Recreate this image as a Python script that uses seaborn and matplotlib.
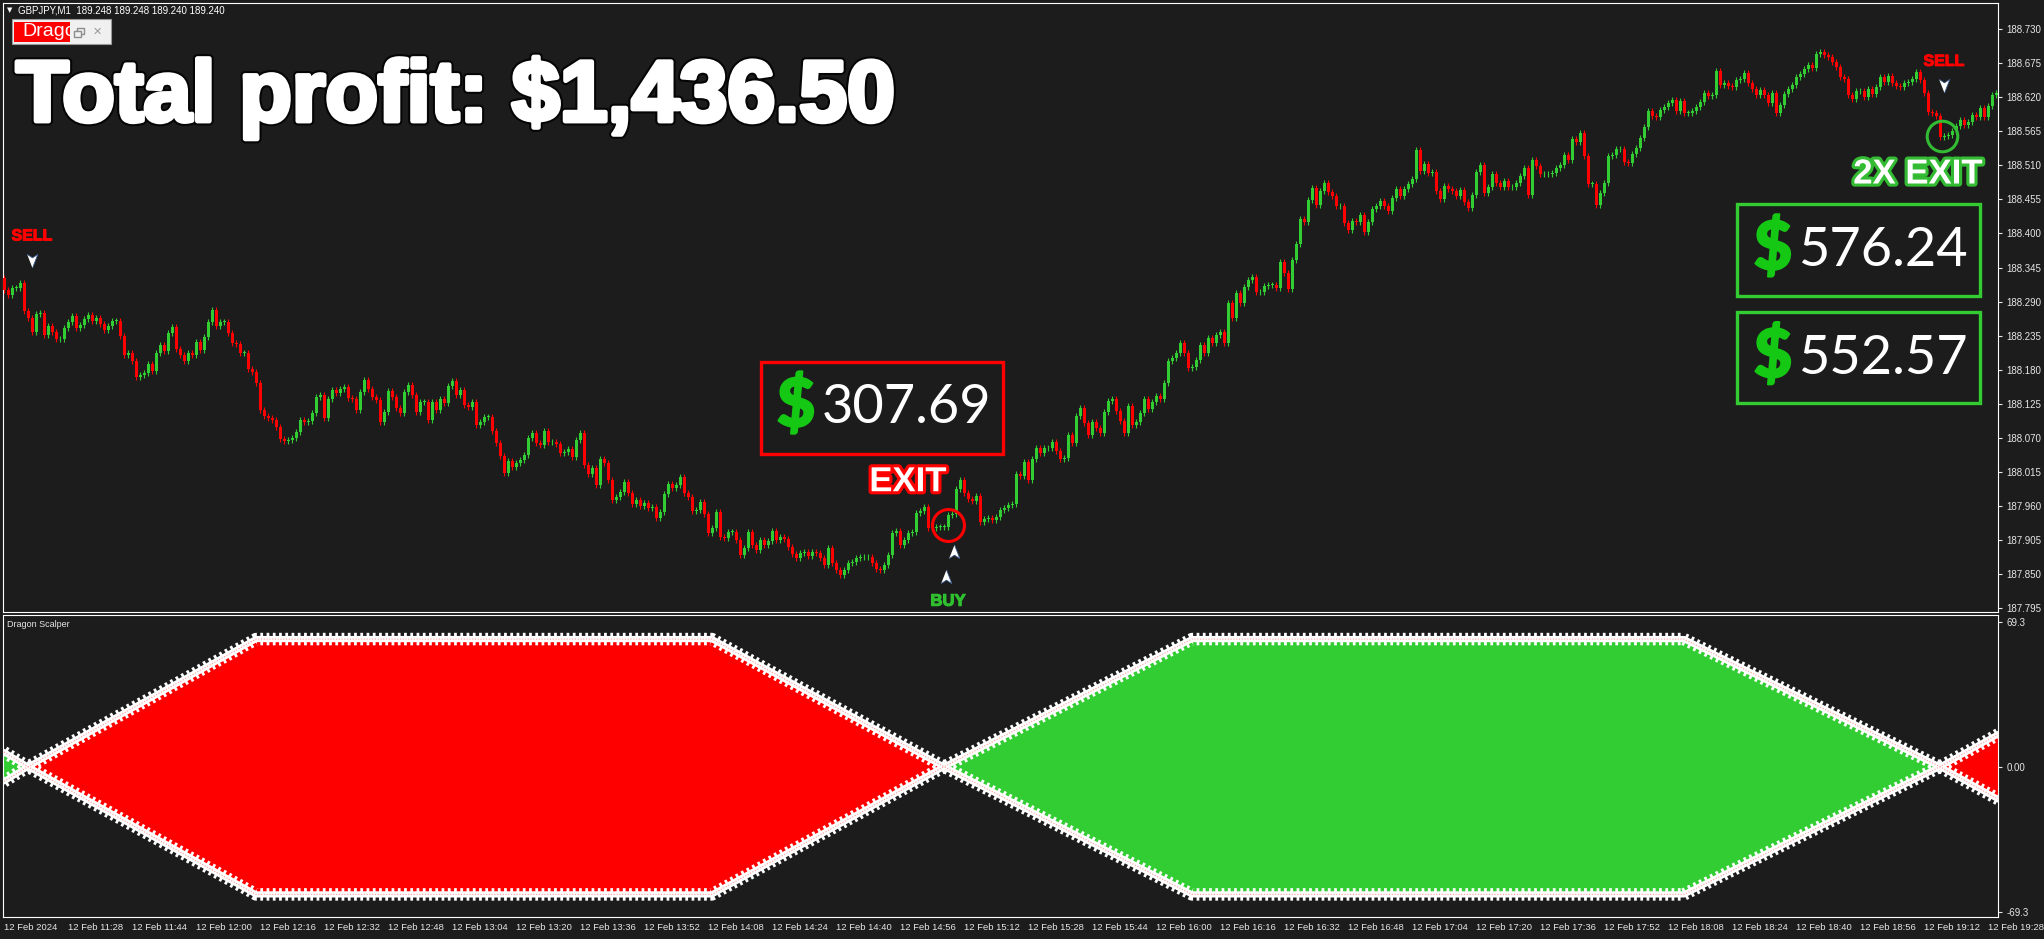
import numpy as np
import pandas as pd
import matplotlib
matplotlib.use("Agg")
import matplotlib.pyplot as plt
import matplotlib.patheffects as pe
from matplotlib.patches import Rectangle
import seaborn as sns

BG = "#1c1c1c"
RED = "#ff0000"
GREEN = "#32cd32"
FG = "#e6e6e6"

sns.set_style("dark", {"axes.facecolor": BG, "figure.facecolor": BG,
                       "axes.edgecolor": "white", "xtick.color": FG, "ytick.color": FG})
plt.rcParams["font.family"] = ["Liberation Sans", "DejaVu Sans"]

# GBPJPY M1 closes, 12 Feb 2024, one per minute from 11:12
first_open = 188.328
closes = [
    188.309, 188.301, 188.312, 188.312, 188.320, 188.275, 188.263, 188.241, 188.270, 188.271,
    188.236, 188.250, 188.241, 188.229, 188.229, 188.247, 188.257, 188.267, 188.247, 188.252,
    188.262, 188.268, 188.259, 188.263, 188.254, 188.244, 188.250, 188.259, 188.259, 188.234,
    188.204, 188.207, 188.194, 188.168, 188.171, 188.175, 188.189, 188.178, 188.207, 188.220,
    188.210, 188.239, 188.249, 188.213, 188.204, 188.194, 188.207, 188.204, 188.225, 188.212,
    188.233, 188.257, 188.276, 188.250, 188.257, 188.257, 188.239, 188.223, 188.221, 188.207,
    188.207, 188.181, 188.176, 188.158, 188.115, 188.105, 188.102, 188.099, 188.087, 188.068,
    188.065, 188.066, 188.070, 188.079, 188.099, 188.095, 188.097, 188.110, 188.136, 188.139,
    188.102, 188.133, 188.147, 188.142, 188.149, 188.152, 188.134, 188.133, 188.115, 188.144,
    188.163, 188.149, 188.136, 188.131, 188.095, 188.112, 188.146, 188.136, 188.118, 188.110,
    188.144, 188.155, 188.139, 188.112, 188.128, 188.128, 188.099, 188.128, 188.115, 188.133,
    188.126, 188.154, 188.162, 188.139, 188.147, 188.123, 188.120, 188.128, 188.091, 188.095,
    188.104, 188.104, 188.081, 188.062, 188.041, 188.013, 188.032, 188.023, 188.029, 188.034,
    188.042, 188.070, 188.078, 188.062, 188.058, 188.081, 188.063, 188.063, 188.060, 188.045,
    188.047, 188.052, 188.039, 188.066, 188.078, 188.026, 188.011, 188.021, 187.994, 188.036,
    188.029, 188.002, 187.970, 187.974, 187.982, 187.999, 187.981, 187.963, 187.970, 187.960,
    187.965, 187.957, 187.958, 187.940, 187.950, 187.979, 187.995, 187.989, 187.994, 188.007,
    187.981, 187.974, 187.952, 187.953, 187.966, 187.947, 187.916, 187.924, 187.950, 187.910,
    187.908, 187.918, 187.918, 187.905, 187.881, 187.892, 187.918, 187.897, 187.889, 187.905,
    187.897, 187.903, 187.919, 187.905, 187.910, 187.906, 187.894, 187.882, 187.876, 187.884,
    187.885, 187.879, 187.885, 187.884, 187.876, 187.865, 187.892, 187.868, 187.856, 187.848,
    187.856, 187.868, 187.869, 187.876, 187.877, 187.877, 187.877, 187.868, 187.858, 187.856,
    187.865, 187.881, 187.916, 187.919, 187.897, 187.905, 187.916, 187.918, 187.949, 187.952,
    187.958, 187.924, 187.924, 187.926, 187.926, 187.926, 187.945, 187.947, 187.987, 188.002,
    187.981, 187.971, 187.968, 187.976, 187.934, 187.939, 187.940, 187.937, 187.942, 187.953,
    187.957, 187.961, 187.963, 188.011, 188.008, 188.031, 188.002, 188.036, 188.053, 188.045,
    188.053, 188.053, 188.063, 188.049, 188.036, 188.037, 188.074, 188.062, 188.105, 188.118,
    188.094, 188.074, 188.095, 188.086, 188.078, 188.112, 188.129, 188.133, 188.113, 188.097,
    188.078, 188.121, 188.091, 188.095, 188.110, 188.133, 188.116, 188.128, 188.137, 188.133,
    188.158, 188.194, 188.199, 188.207, 188.223, 188.207, 188.183, 188.184, 188.196, 188.220,
    188.207, 188.231, 188.223, 188.236, 188.241, 188.223, 188.288, 188.263, 188.304, 188.288,
    188.314, 188.325, 188.330, 188.305, 188.305, 188.315, 188.317, 188.317, 188.312, 188.354,
    188.336, 188.310, 188.357, 188.383, 188.423, 188.418, 188.454, 188.473, 188.446, 188.469,
    188.481, 188.467, 188.460, 188.444, 188.444, 188.417, 188.405, 188.420, 188.418, 188.430,
    188.402, 188.418, 188.439, 188.444, 188.452, 188.444, 188.436, 188.457, 188.472, 188.460,
    188.472, 188.480, 188.488, 188.535, 188.501, 188.512, 188.498, 188.499, 188.469, 188.456,
    188.477, 188.472, 188.469, 188.460, 188.470, 188.451, 188.441, 188.462, 188.499, 188.511,
    188.465, 188.475, 188.496, 188.481, 188.475, 188.485, 188.475, 188.475, 188.481, 188.493,
    188.506, 188.462, 188.519, 188.509, 188.496, 188.496, 188.496, 188.498, 188.506, 188.511,
    188.527, 188.519, 188.553, 188.548, 188.562, 188.525, 188.480, 188.480, 188.446, 188.465,
    188.481, 188.525, 188.527, 188.536, 188.536, 188.515, 188.514, 188.528, 188.538, 188.554,
    188.572, 188.598, 188.590, 188.588, 188.599, 188.604, 188.611, 188.616, 188.598, 188.614,
    188.595, 188.595, 188.598, 188.604, 188.612, 188.627, 188.622, 188.624, 188.662, 188.640,
    188.643, 188.638, 188.637, 188.648, 188.649, 188.659, 188.643, 188.633, 188.624, 188.632,
    188.624, 188.611, 188.627, 188.595, 188.607, 188.625, 188.633, 188.640, 188.653, 188.657,
    188.666, 188.672, 188.667, 188.690, 188.693, 188.688, 188.685, 188.677, 188.669, 188.653,
    188.649, 188.624, 188.617, 188.630, 188.630, 188.620, 188.633, 188.625, 188.637, 188.653,
    188.645, 188.654, 188.643, 188.638, 188.637, 188.643, 188.645, 188.649, 188.661, 188.648,
    188.627, 188.596, 188.595, 188.590, 188.556, 188.557, 188.559, 188.565, 188.574, 188.583,
    188.575, 188.580, 188.591, 188.588, 188.603, 188.588, 188.606, 188.624, 188.627,
]

# Dragon Scalper indicator lines (minute index, value)
ind_t = [0, 6, 63, 177, 235, 297, 420, 484, 499]
ind_fast = [-7, 0, 61, 61, 0, -61, -61, 0, 16]
ind_slow = [7, 0, -61, -61, 0, 61, 61, 0, -16]

price_ticks = [188.730, 188.675, 188.620, 188.565, 188.510, 188.455, 188.400, 188.345, 188.290,
               188.235, 188.180, 188.125, 188.070, 188.015, 187.960, 187.905, 187.850, 187.795]
ind_ticks = [69.3, 0.0, -69.3]
ind_tick_labels = ["69.3", "0.00", "-69.3"]
time_labels = ["12 Feb 2024", "12 Feb 11:28", "12 Feb 11:44", "12 Feb 12:00", "12 Feb 12:16",
               "12 Feb 12:32", "12 Feb 12:48", "12 Feb 13:04", "12 Feb 13:20", "12 Feb 13:36",
               "12 Feb 13:52", "12 Feb 14:08", "12 Feb 14:24", "12 Feb 14:40", "12 Feb 14:56",
               "12 Feb 15:12", "12 Feb 15:28", "12 Feb 15:44", "12 Feb 16:00", "12 Feb 16:16",
               "12 Feb 16:32", "12 Feb 16:48", "12 Feb 17:04", "12 Feb 17:20", "12 Feb 17:36",
               "12 Feb 17:52", "12 Feb 18:08", "12 Feb 18:24", "12 Feb 18:40", "12 Feb 18:56",
               "12 Feb 19:12", "12 Feb 19:28"]
time_ticks = [16 * i for i in range(len(time_labels))]

# signals
sell_t, sell_label_p, sell_arrow_p = [7, 485], [188.396, 188.678], [188.357, 188.640]
buy_t, buy_arrow_p, buy_label_p = [237.5, 235.5], [187.886, 187.845], 187.806
exit_t, exit_p = 236, 187.929
exit2_t, exit2_p = 484.6, 188.557
profits = ["307.69", "576.24", "552.57"]
title = "Total profit: $1,436.50"
header = "GBPJPY,M1  189.248 189.248 189.240 189.240"

df = pd.DataFrame({"close": closes})
df["open"] = [first_open] + closes[:-1]
df["t"] = np.arange(len(df))
df["up"] = df["close"] >= df["open"]
df["top"] = df[["open", "close"]].max(axis=1)
df["bot"] = df[["open", "close"]].min(axis=1)

W, H = 2044, 939
fig = plt.figure(figsize=(W / 100, H / 100), dpi=100)
ax = fig.add_axes([3 / W, 1 - 612 / H, 1995 / W, 609 / H])
axi = fig.add_axes([3 / W, 1 - 917 / H, 1995 / W, 302 / H])

for a in (ax, axi):
    a.set_facecolor(BG)
    a.set_xlim(-0.25, 498.5)
    for s in a.spines.values():
        s.set_color("white")
        s.set_linewidth(0.8)

# candles
wick = 0.005
colors = np.where(df["up"], GREEN, RED)
ax.vlines(df["t"], df["bot"] - wick, df["top"] + wick, colors=colors, lw=0.8, zorder=2)
ax.bar(df["t"], np.maximum(df["top"] - df["bot"], 0.0008), bottom=df["bot"], width=0.75,
       color=colors, linewidth=0, zorder=3)

ax.set_ylim(187.7886, 188.7722)
ax.set_yticks(price_ticks)
ax.set_yticklabels([f"{p:.3f}" for p in price_ticks])
ax.yaxis.tick_right()
ax.tick_params(axis="y", direction="out", length=3, width=0.8, pad=3, labelsize=7, colors=FG)
ax.tick_params(axis="x", bottom=False, labelbottom=False)
ax.set_xlabel("")
ax.set_ylabel("")

# indicator
it = np.array(ind_t)
fast = np.array(ind_fast, dtype=float)
slow = np.array(ind_slow, dtype=float)
axi.fill_between(it, fast, slow, where=fast >= slow, interpolate=True, color=RED, lw=0, zorder=2)
axi.fill_between(it, fast, slow, where=fast <= slow, interpolate=True, color=GREEN, lw=0, zorder=2)
for line in (fast, slow):
    # serrated white edge: wide short dashes over a solid core
    sns.lineplot(x=it, y=line, ax=axi, color="white", lw=9, ls=(0, (0.22, 0.28)),
                 estimator=None, sort=False, zorder=3)
    sns.lineplot(x=it, y=line, ax=axi, color="white", lw=4.5, estimator=None, sort=False, zorder=4)
    sns.lineplot(x=it, y=line, ax=axi, color="#ff9a9a", lw=0.8, ls=(0, (1, 1.5)),
                 estimator=None, sort=False, zorder=5)
axi.set_ylim(-71.8, 72.5)
axi.set_yticks(ind_ticks)
axi.set_yticklabels(ind_tick_labels)
axi.yaxis.tick_right()
axi.tick_params(axis="y", direction="out", length=3, width=0.8, pad=3, labelsize=7, colors=FG)
axi.set_xticks(time_ticks)
axi.set_xticklabels(time_labels)
axi.tick_params(axis="x", direction="out", length=3, width=0.8, pad=1, labelsize=6.8, colors=FG)
for lbl in axi.get_xticklabels():
    lbl.set_horizontalalignment("left")
axi.set_xlabel("")
axi.set_ylabel("")
axi.text(0.002, 0.985, "Dragon Scalper", transform=axi.transAxes, va="top", ha="left",
         fontsize=6.5, color=FG)

# header and window widget
fig.text(7 / W, 1 - 10.5 / H, "\u25bc", fontsize=5, color="white", va="center", family="DejaVu Sans")
fig.text(18 / W, 1 - 10.5 / H, header, fontsize=7, color="white", va="center")
fig.add_artist(Rectangle((12 / W, 1 - 44 / H), 99 / W, 25 / H, transform=fig.transFigure,
                         facecolor="#f0f0f0", edgecolor="#9a9a9a", lw=0.8))
red_rect = Rectangle((14 / W, 1 - 42 / H), 56 / W, 20 / H, transform=fig.transFigure,
                     facecolor=RED, edgecolor="none")
fig.add_artist(red_rect)
t_drag = fig.text(22 / W, 1 - 32 / H, "Drago", fontsize=14, color="white", va="center")
t_drag.set_clip_path(red_rect)
fig.add_artist(Rectangle((77 / W, 1 - 34 / H), 7 / W, 6 / H, transform=fig.transFigure,
                         facecolor="none", edgecolor="#8c8c8c", lw=1.0))
fig.add_artist(Rectangle((74 / W, 1 - 37 / H), 7 / W, 6 / H, transform=fig.transFigure,
                         facecolor="#f0f0f0", edgecolor="#8c8c8c", lw=1.0))
fig.text(97.5 / W, 1 - 32 / H, "\u2715", fontsize=8, color="#9a9a9a", ha="center", va="center",
         family="DejaVu Sans", fontweight="bold")

fig.text(16 / W, 1 - 121 / H, title, fontsize=62, fontweight="bold", color="white", va="baseline",
         path_effects=[pe.Stroke(linewidth=6.5, foreground="#050505"),
                       pe.Stroke(linewidth=3.5, foreground="white"), pe.Normal()])

# signals on price chart
sell_marker = [(0, -1), (0.7, 0.8), (0, 0.35), (-0.7, 0.8)]
buy_marker = [(0, 1), (0.7, -0.8), (0, -0.35), (-0.7, -0.8)]
for t, lp, ap in zip(sell_t, sell_label_p, sell_arrow_p):
    ax.text(t, lp, "SELL", color=RED, fontsize=11.5, fontweight="bold", ha="center", va="center",
            zorder=6, path_effects=[pe.withStroke(linewidth=0.8, foreground=RED)])
    ax.plot(t, ap, marker=sell_marker, ms=11, mfc="white", mec="#3b5b8c", mew=0.6, ls="none", zorder=6)
for t, ap in zip(buy_t, buy_arrow_p):
    ax.plot(t, ap, marker=buy_marker, ms=11, mfc="white", mec="#3b5b8c", mew=0.6, ls="none", zorder=6)
ax.text(236, buy_label_p, "BUY", color="#2fbf2f", fontsize=12, fontweight="bold", ha="center",
        va="center", zorder=6, path_effects=[pe.withStroke(linewidth=0.8, foreground="#2fbf2f")])

ax.plot(exit_t, exit_p, marker="o", ms=23, mfc="none", mec=RED, mew=2.2, zorder=6)
ax.text(226, 187.999, "EXIT", color="white", fontsize=25, fontweight="bold", ha="center", va="center",
        zorder=7, path_effects=[pe.withStroke(linewidth=4.5, foreground=RED)])
ax.plot(exit2_t, exit2_p, marker="o", ms=22, mfc="none", mec="#33bb33", mew=2.2, zorder=6)
ax.text(478.5, 188.496, "2X EXIT", color="white", fontsize=25, fontweight="bold", ha="center",
        va="center", zorder=7, path_effects=[pe.withStroke(linewidth=4.5, foreground="#33bb33")])

# profit boxes (axes fraction)
boxes = [((0.380, 0.2594), (0.1213, 0.1511), RED, 0.3975, 0.4105, 0.336),
         ((0.8692, 0.5189), (0.1218, 0.1511), "#33cc33", 0.8872, 0.8997, 0.594),
         ((0.8692, 0.3432), (0.1218, 0.1494), "#33cc33", 0.8872, 0.8997, 0.417)]
for (xy, wh, ec, dx, nx, cy), amount in zip(boxes, profits):
    ax.add_patch(Rectangle(xy, wh[0], wh[1], transform=ax.transAxes, facecolor=BG, edgecolor=ec,
                           lw=2.4, zorder=8))
    ax.text(dx, cy, "$", transform=ax.transAxes, color="#14c814", fontsize=48, fontweight="black",
            family="Lato", ha="center", va="center", zorder=9,
            path_effects=[pe.withStroke(linewidth=1.5, foreground="#14c814")])
    ax.text(nx, cy, amount, transform=ax.transAxes, color="white", fontsize=39, family="Lato",
            ha="left", va="center", zorder=9)

fig.savefig("out.png", dpi=100, facecolor=BG)
